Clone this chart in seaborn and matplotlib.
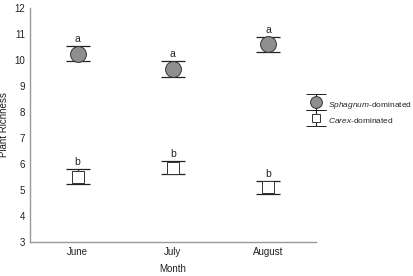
import numpy as np
import pandas as pd
import matplotlib
matplotlib.use("Agg")
import matplotlib.pyplot as plt
from matplotlib.legend_handler import HandlerErrorbar
import seaborn as sns

# values
months = ["June", "July", "August"]
sphag_mean = [10.25, 9.66, 10.60]
sphag_err = [0.30, 0.30, 0.30]
carex_mean = [5.52, 5.86, 5.10]
carex_err = [0.29, 0.26, 0.25]
sphag_letters = ["a", "a", "a"]
carex_letters = ["b", "b", "b"]

sns.set_style("white")
plt.rcParams['font.family'] = ['Liberation Sans', 'DejaVu Sans']
plt.rcParams['mathtext.fontset'] = 'custom'
plt.rcParams['mathtext.rm'] = 'Liberation Sans'
plt.rcParams['mathtext.it'] = 'Liberation Sans:italic'

df = pd.DataFrame({
    "month": months * 2,
    "richness": sphag_mean + carex_mean,
    "err": sphag_err + carex_err,
    "type": ["Sphagnum"] * 3 + ["Carex"] * 3,
})

fig = plt.figure(figsize=(4.14, 2.76), dpi=100)
ax = fig.add_axes([0.0725, 0.123, 0.69, 0.848])

sp = df[df.type == "Sphagnum"]
cx = df[df.type == "Carex"]

# error bars
ax.errorbar(sp.month, sp.richness, yerr=sp.err, fmt='none', ecolor='#222222',
            elinewidth=0.8, capsize=8.5, capthick=0.9, zorder=2)
ax.errorbar(cx.month, cx.richness, yerr=cx.err, fmt='none', ecolor='#222222',
            elinewidth=0.8, capsize=8.5, capthick=0.9, zorder=2)

sns.scatterplot(data=sp, x="month", y="richness", marker='o', s=130,
                color='#8f8f8f', edgecolor='#333333', linewidth=0.7,
                ax=ax, zorder=3, legend=False)
sns.scatterplot(data=cx, x="month", y="richness", marker='s', s=80,
                color='white', edgecolor='#333333', linewidth=0.7,
                ax=ax, zorder=3, legend=False)

for i in range(3):
    ax.text(i, sphag_mean[i] + sphag_err[i] + 0.08, sphag_letters[i],
            ha='center', va='bottom', fontsize=7.5, color='#222222')
    ax.text(i, carex_mean[i] + carex_err[i] + 0.08, carex_letters[i],
            ha='center', va='bottom', fontsize=7.5, color='#222222')

# legend proxies
h1 = ax.errorbar([np.nan], [np.nan], yerr=[0.3], fmt='o', ms=8.5, mfc='#8f8f8f',
                 mec='#333333', mew=0.7, ecolor='#222222', elinewidth=0.8,
                 capsize=7.2, capthick=0.9)
h2 = ax.errorbar([np.nan], [np.nan], yerr=[0.3], fmt='s', ms=5.5, mfc='white',
                 mec='#333333', mew=0.7, ecolor='#222222', elinewidth=0.8,
                 capsize=7.2, capthick=0.9)
ax.legend([h1, h2], [r"$\it{Sphagnum}$-dominated", r"$\it{Carex}$-dominated"],
          loc='center left', bbox_to_anchor=(306 / 414, 1 - 112 / 276),
          bbox_transform=fig.transFigure, frameon=False,
          fontsize=6, handlelength=2.4, handleheight=1.95, handletextpad=0.3,
          labelspacing=0.4, borderaxespad=0, borderpad=0,
          handler_map={type(h1): HandlerErrorbar(yerr_size=0.97)})

ax.set_xlim(-0.5, 2.5)
ax.set_ylim(3, 12)
ax.set_yticks(range(3, 13))
ax.set_xlabel("Month", fontsize=7, color='#222222', labelpad=5)
ax.set_ylabel("Plant Richness", fontsize=7, color='#222222', labelpad=4)
ax.tick_params(axis='both', labelsize=7, colors='#222222', direction='in',
               length=2, width=0.6, color='#888888')
for s in ['top', 'right']:
    ax.spines[s].set_visible(False)
for s in ['left', 'bottom']:
    ax.spines[s].set_color('#999999')
    ax.spines[s].set_linewidth(1.0)

fig.savefig("out.png", dpi=100)
